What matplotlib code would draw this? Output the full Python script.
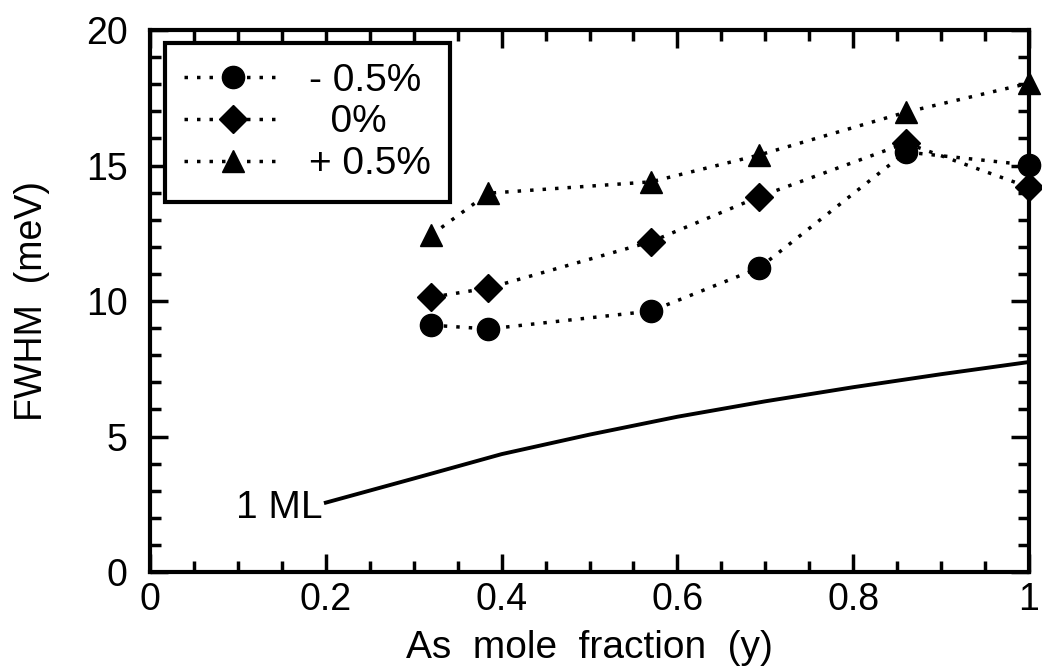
import matplotlib
matplotlib.use("Agg")
import matplotlib.pyplot as plt
from matplotlib.ticker import MultipleLocator

plt.rcParams['font.family'] = ['Liberation Sans', 'DejaVu Sans']

# Data
x_pts = [0.32, 0.385, 0.57, 0.693, 0.86, 1.0]
fwhm_minus = [9.11, 8.97, 9.63, 11.22, 15.5, 15.02]
fwhm_zero = [10.14, 10.48, 12.19, 13.85, 15.83, 14.2]
fwhm_plus = [12.44, 13.98, 14.4, 15.39, 16.97, 18.04]
series_labels = ['- 0.5%', '  0%', '+ 0.5%']

ml_x = [0.2, 0.3, 0.4, 0.5, 0.6, 0.7, 0.8, 0.9, 1.0]
ml_y = [2.56, 3.45, 4.35, 5.07, 5.73, 6.3, 6.82, 7.3, 7.75]
ml_label = '1 ML'

xticks = [0, 0.2, 0.4, 0.6, 0.8, 1.0]
xticklabels = ['0', '0.2', '0.4', '0.6', '0.8', '1']
yticks = [0, 5, 10, 15, 20]

fig = plt.figure(figsize=(10.42, 6.69), dpi=100)
ax = fig.add_axes([0.144, 0.145, 0.8435, 0.81])

dot = (0, (1, 2.6))
ax.plot(x_pts, fwhm_minus, linestyle=dot, lw=2.5, color='black', marker='o',
        markersize=16, label=series_labels[0], clip_on=False, zorder=3)
ax.plot(x_pts, fwhm_zero, linestyle=dot, lw=2.5, color='black', marker='D',
        markersize=14, label=series_labels[1], clip_on=False, zorder=3)
ax.plot(x_pts, fwhm_plus, linestyle=dot, lw=2.5, color='black', marker='^',
        markersize=16, label=series_labels[2], clip_on=False, zorder=3)
ax.plot(ml_x, ml_y, color='black', lw=2.8, zorder=2)
ax.text(0.196, 2.0, ml_label, ha='right', va='baseline', fontsize=28)

ax.set_xlim(0, 1)
ax.set_ylim(0, 20)
ax.set_xticks(xticks)
ax.set_xticklabels(xticklabels)
ax.set_yticks(yticks)
ax.xaxis.set_minor_locator(MultipleLocator(0.05))
ax.yaxis.set_minor_locator(MultipleLocator(1))
ax.tick_params(which='both', direction='in', top=True, right=True,
               width=2.5, labelsize=27, colors='black')
ax.tick_params(which='major', length=13)
ax.tick_params(which='minor', length=8)
ax.tick_params(axis='x', which='major', pad=7)
ax.tick_params(axis='y', which='major', pad=16)
for s in ax.spines.values():
    s.set_linewidth(3)

ax.set_xlabel('As  mole  fraction  (y)', fontsize=28, labelpad=9)
ax.set_ylabel('FWHM  (meV)', fontsize=27, labelpad=26)

leg = ax.legend(loc='upper left', bbox_to_anchor=(0.017, 0.976), fontsize=28,
                frameon=True, fancybox=False, edgecolor='black', numpoints=1,
                handlelength=2.5, handletextpad=0.7, labelspacing=0.15,
                borderpad=0.5, borderaxespad=0.0, framealpha=1)
leg.get_frame().set_linewidth(3)

fig.savefig('out.png', dpi=100)
